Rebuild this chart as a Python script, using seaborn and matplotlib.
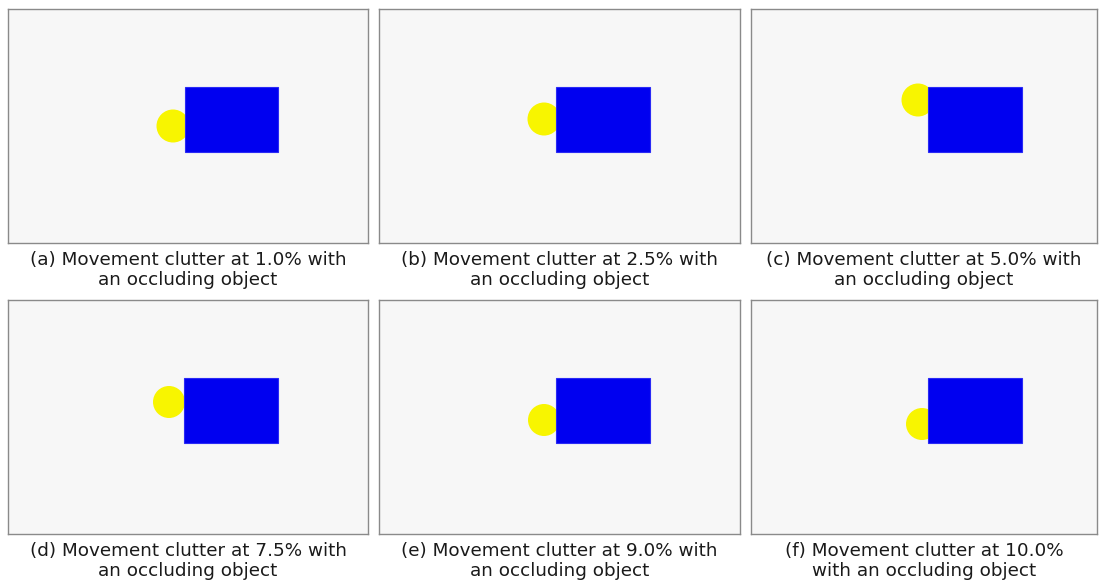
import matplotlib
matplotlib.use("Agg")
import matplotlib.pyplot as plt
from matplotlib.patches import Circle, Rectangle
import seaborn as sns

# --- data: one entry per panel, positions in panel pixels (origin top-left) ---
labels = ["(a)", "(b)", "(c)", "(d)", "(e)", "(f)"]
clutter = ["1.0%", "2.5%", "5.0%", "7.5%", "9.0%", "10.0%"]
captions = [
    "{} Movement clutter at {} with\nan occluding object",
    "{} Movement clutter at {} with\nan occluding object",
    "{} Movement clutter at {} with\nan occluding object",
    "{} Movement clutter at {} with\nan occluding object",
    "{} Movement clutter at {} with\nan occluding object",
    "{} Movement clutter at {}\nwith an occluding object",
]
ball_x = [165, 165, 167, 161, 165, 171]
ball_y = [117, 110, 91, 102, 120, 124]
ball_r = [16.5, 16.5, 16.5, 16.0, 16.0, 16.0]
box_x0 = [177, 177, 177, 176, 177, 177]
box_y0 = [78, 78, 78, 78, 78, 78]
box_w = [93, 94, 94, 94, 94, 94]
box_h = [65, 65, 65, 65, 65, 65]

# --- layout (figure pixels) ---
W, H = 1105, 581
col_left = [8, 379, 751]
col_width = [360, 361, 346]
row_top = [9, 300]
panel_h = 234

sns.set_theme(style="white")
plt.rcParams['font.family'] = ['DejaVu Sans']

fig = plt.figure(figsize=(W / 100, H / 100), dpi=100)
fig.patch.set_facecolor("white")

for i in range(6):
    r, c = divmod(i, 3)
    left, top, pw = col_left[c], row_top[r], col_width[c]
    ax = fig.add_axes([left / W, 1 - (top + panel_h) / H, pw / W, panel_h / H])
    ax.set_facecolor("#f7f7f7")
    ax.set_xlim(0, pw)
    ax.set_ylim(panel_h, 0)
    ax.set_xticks([])
    ax.set_yticks([])
    for s in ax.spines.values():
        s.set_color("#8a8a8a")
        s.set_linewidth(1.0)

    # occluded object first, occluder on top
    ax.add_patch(Circle((ball_x[i], ball_y[i]), ball_r[i],
                        facecolor="#f8f500", edgecolor="none", zorder=2))
    ax.add_patch(Rectangle((box_x0[i], box_y0[i]), box_w[i], box_h[i],
                           facecolor="#0000f0", edgecolor="#2a2af5",
                           linewidth=0.8, zorder=3))

    fig.text((left + pw / 2) / W, 1 - (top + panel_h + 27) / H,
             captions[i].format(labels[i], clutter[i]),
             ha="center", va="center", fontsize=13.2, color="#1a1a1a",
             linespacing=1.15)

fig.savefig("out.png", dpi=100, facecolor="white")
